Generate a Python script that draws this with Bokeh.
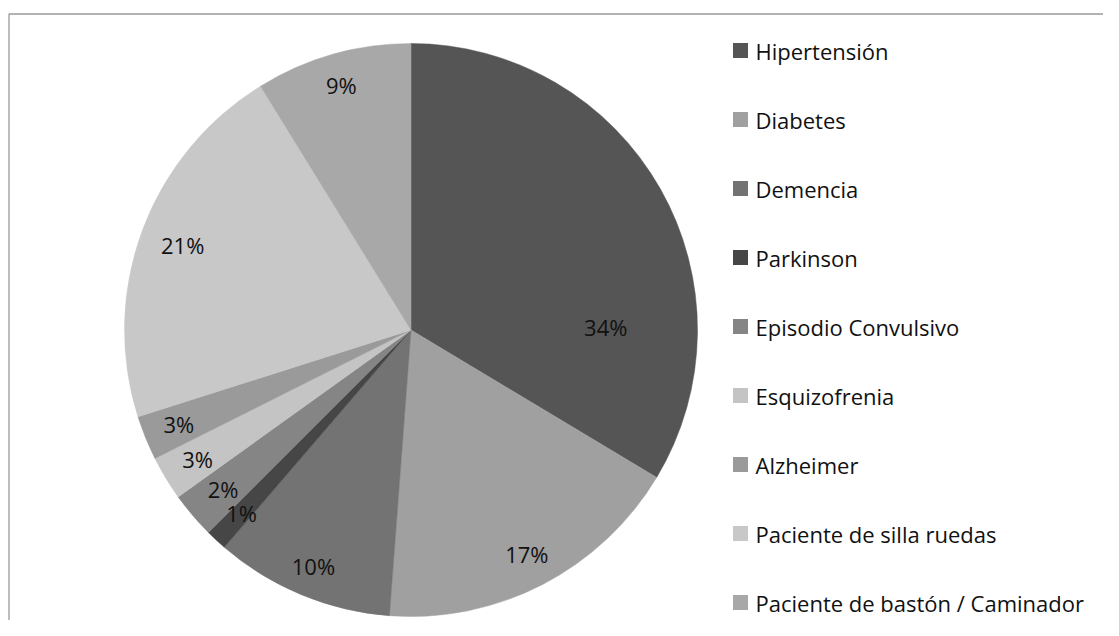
import numpy as np
from bokeh.plotting import figure
from bokeh.models import Range1d, ColumnDataSource
from bokeh.embed import file_html
from bokeh.resources import INLINE
from bokeh.core.properties import value

# ---------------- data ----------------
categories = ["Hipertensión", "Diabetes", "Demencia", "Parkinson",
              "Episodio Convulsivo", "Esquizofrenia", "Alzheimer",
              "Paciente de silla ruedas", "Paciente de bastón / Caminador"]
shares = [33.6, 17.6, 10.1, 1.2, 2.6, 2.5, 2.5, 21.1, 8.8]
pct_labels = ["34%", "17%", "10%", "1%", "2%", "3%", "3%", "21%", "9%"]

# ---------------- style ----------------
colors = ["#555555", "#a0a0a0", "#737373", "#464646", "#858585",
          "#c4c4c4", "#9a9a9a", "#c8c8c8", "#a8a8a8"]
label_rfrac = [0.68, 0.88, 0.89, 0.87, 0.86, 0.87, 0.875, 0.85, 0.89]
label_dang = [28.5, 0, 0, 0, 0, 0, 0, 0, 0]   # degrees, clockwise shift
FONT = "Open Sans"
FS_LAB = "22px"
FS_LEG = "22px"

W, H = 1103, 620
# data y = H - pixel y (pixel measured from the top-left of the figure)
cx, cy, R = 410.5, H - 329.5, 286.5

p = figure(width=W, height=H, output_backend="svg", toolbar_location=None,
           x_range=Range1d(0, W), y_range=Range1d(0, H),
           x_axis_type=None, y_axis_type=None, min_border=0)
p.outline_line_color = None
p.grid.visible = False
p.background_fill_color = "white"

# frame
p.line([8.5, 8.5, W], [0, H - 13.5, H - 13.5],
       line_color="#9a9a9a", line_width=1.3)

# pie
vals = np.array(shares, dtype=float)
frac = vals / vals.sum()
cum_end = np.cumsum(frac)
cum_start = cum_end - frac
start_ang = np.pi / 2 - cum_end * 2 * np.pi
end_ang = np.pi / 2 - cum_start * 2 * np.pi
src = ColumnDataSource(dict(start=start_ang, end=end_ang, color=colors))
p.wedge(x=cx, y=cy, radius=R, start_angle="start", end_angle="end",
        fill_color="color", line_color="color", line_width=0.5, source=src)

# percent labels
mid_cw = (cum_start + frac / 2) * 360 + np.array(label_dang)
theta = np.deg2rad(mid_cw)
lx = cx + np.array(label_rfrac) * R * np.sin(theta)
ly = cy + np.array(label_rfrac) * R * np.cos(theta)
p.text(x=lx, y=ly, text=pct_labels, text_align="center", text_baseline="middle",
       text_font=value(FONT), text_font_size=FS_LAB, text_color="#111111")

# legend
n = len(categories)
leg_first, leg_last = 50, 602
step = (leg_last - leg_first) / (n - 1)
ly_leg = [H - (leg_first + i * step) for i in range(n)]
p.rect(x=[740] * n, y=ly_leg, width=15, height=15,
       fill_color=colors, line_color=None)
p.text(x=[755] * n, y=ly_leg, text=categories,
       text_align="left", text_baseline="middle",
       text_font=value(FONT), text_font_size=FS_LEG, text_color="#111111")

open("out.html", "w").write(file_html(p, INLINE))
